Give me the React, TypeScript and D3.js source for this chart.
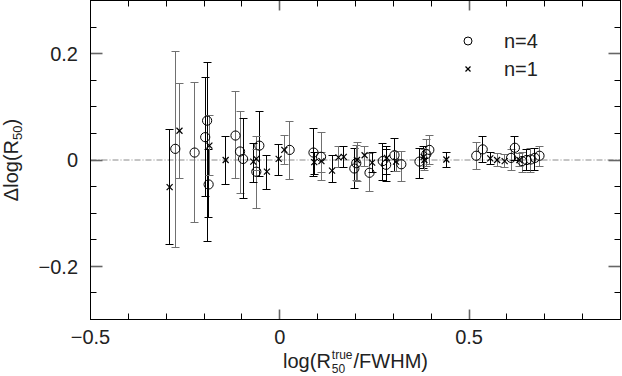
import React, { useEffect, useRef } from "react";
import * as d3 from "d3";

// n=4 points (circles)
const n4X = [-0.276, -0.225, -0.197, -0.192, -0.188, -0.117, -0.105, -0.097, -0.054, -0.062, 0.026, 0.089, 0.109, 0.197, 0.202, 0.237, 0.272, 0.281, 0.303, 0.321, 0.369, 0.387, 0.395, 0.519, 0.536, 0.611, 0.621, 0.640, 0.652, 0.663, 0.674, 0.686];
const n4Y = [0.021, 0.014, 0.043, 0.074, -0.046, 0.046, 0.016, 0.002, 0.027, -0.022, 0.019, 0.014, 0.006, -0.016, -0.006, -0.024, -0.002, -0.009, 0.009, -0.008, -0.003, 0.011, 0.019, 0.008, 0.020, 0.004, 0.023, -0.002, 0.0, 0.001, 0.004, 0.008];
const n4Lo = [-0.164, -0.117, -0.069, -0.154, -0.109, -0.035, -0.063, -0.073, -0.031, -0.091, -0.036, -0.031, -0.038, -0.053, -0.038, -0.060, -0.038, -0.041, -0.022, -0.041, -0.034, -0.013, -0.009, -0.017, -0.004, -0.019, -0.001, -0.023, -0.019, -0.023, -0.019, -0.013];
const n4Hi = [0.204, 0.145, 0.155, 0.183, 0.019, 0.128, 0.092, 0.078, 0.092, 0.044, 0.072, 0.060, 0.052, 0.022, 0.028, 0.012, 0.031, 0.025, 0.041, 0.016, 0.022, 0.038, 0.047, 0.033, 0.045, 0.019, 0.045, 0.015, 0.019, 0.021, 0.022, 0.026];
const n4Set = ["B", "B", "A", "A", "A", "B", "B", "A", "A", "B", "B", "A", "B", "A", "B", "B", "A", "A", "A", "B", "A", "B", "B", "B", "A", "B", "A", "B", "A", "B", "A", "B"];

// n=1 points (crosses)
const n1X = [-0.291, -0.265, -0.186, -0.143, -0.070, -0.062, -0.034, -0.003, 0.012, 0.091, 0.110, 0.138, 0.155, 0.169, 0.204, 0.224, 0.244, 0.283, 0.307, 0.380, 0.382, 0.440, 0.556, 0.574, 0.594, 0.633];
const n1Y = [-0.051, 0.055, 0.027, 0.0, -0.003, 0.002, -0.022, 0.002, 0.019, -0.004, -0.002, -0.020, 0.005, 0.006, 0.0, 0.009, -0.005, 0.004, -0.003, 0.006, 0.0, 0.001, 0.003, 0.0, -0.002, 0.0];
const n1Lo = [-0.158, -0.034, -0.029, -0.047, -0.042, -0.019, -0.056, -0.030, -0.009, -0.028, -0.023, -0.043, -0.015, -0.014, -0.041, -0.013, -0.023, -0.028, -0.022, -0.016, -0.019, -0.014, -0.009, -0.013, -0.015, -0.013];
const n1Hi = [0.058, 0.143, 0.083, 0.045, 0.031, 0.019, 0.009, 0.030, 0.047, 0.015, 0.015, 0.009, 0.025, 0.025, 0.033, 0.026, 0.014, 0.019, 0.016, 0.025, 0.019, 0.015, 0.015, 0.013, 0.011, 0.013];
const n1Set = ["A", "B", "B", "A", "A", "B", "A", "A", "B", "A", "B", "A", "B", "A", "B", "B", "A", "A", "B", "A", "B", "A", "A", "B", "B", "B"];

const xLabels = [-0.5, 0, 0.5];
const yLabels = [-0.2, 0, 0.2];
const legendLabels = ["n=4", "n=1"];

const FONT = "'Liberation Sans', Arial, Helvetica, sans-serif";

const App = () => {
  const svgRef = useRef<SVGSVGElement>(null);

  useEffect(() => {
    const svg = d3.select(svgRef.current);
    svg.selectAll("*").remove();

    const x = d3.scaleLinear().domain([-0.5, 0.9]).range([90.5, 620.5]);
    const y = d3.scaleLinear().domain([-0.3, 0.3]).range([319.5, 0.5]);
    const col = d3.scaleOrdinal<string, string>().domain(["A", "B"]).range(["#000", "#707070"]);
    const fmt = (v: number) => (v === 0 ? "0" : d3.format(".1f")(v));
    const snap = (p: number) => Math.round(p - 0.5) + 0.5;

    // zero line
    svg.append("line")
      .attr("x1", x(-0.5)).attr("x2", x(0.9))
      .attr("y1", y(0)).attr("y2", y(0))
      .attr("stroke", "#8a8a8a")
      .attr("stroke-dasharray", "6,2,1,2");

    // ticks
    const xt = d3.range(-4, 9).map(i => i / 10);
    const yt = d3.range(-5, 6).map(i => i * 0.05);
    const isMajX = (v: number) => Math.abs(v * 2 - Math.round(v * 2)) < 1e-6;
    const isMajY = (v: number) => Math.abs(v / 0.2 - Math.round(v / 0.2)) < 1e-6;
    const ticks = svg.append("g");
    xt.forEach(v => {
      const len = isMajX(v) ? 10 : 6;
      const c = isMajX(v) ? "#666" : "#000";
      const w = isMajX(v) ? 1.6 : 1;
      const px = snap(x(v));
      ticks.append("line").attr("x1", px).attr("x2", px).attr("y1", y(-0.3)).attr("y2", y(-0.3) - len).attr("stroke", c).attr("stroke-width", w);
      ticks.append("line").attr("x1", px).attr("x2", px).attr("y1", y(0.3)).attr("y2", y(0.3) + len).attr("stroke", c).attr("stroke-width", w);
    });
    yt.forEach(v => {
      const len = isMajY(v) ? 12 : 6;
      const c = isMajY(v) ? "#666" : "#000";
      const w = isMajY(v) ? 1.6 : 1;
      const py = snap(y(v));
      ticks.append("line").attr("x1", x(-0.5)).attr("x2", x(-0.5) + len).attr("y1", py).attr("y2", py).attr("stroke", c).attr("stroke-width", w);
      ticks.append("line").attr("x1", x(0.9)).attr("x2", x(0.9) - len).attr("y1", py).attr("y2", py).attr("stroke", c).attr("stroke-width", w);
    });

    // frame
    svg.append("rect")
      .attr("x", x(-0.5)).attr("y", y(0.3))
      .attr("width", x(0.9) - x(-0.5)).attr("height", y(-0.3) - y(0.3))
      .attr("fill", "none").attr("stroke", "#000");

    // tick labels
    svg.append("g").selectAll("text").data(xLabels).join("text")
      .attr("x", d => x(d)).attr("y", 344)
      .attr("text-anchor", "middle")
      .attr("font-family", FONT).attr("font-size", 20).attr("fill", "#222")
      .text(d => fmt(d));
    svg.append("g").selectAll("text").data(yLabels).join("text")
      .attr("x", 78).attr("y", d => y(d)).attr("dy", "0.36em")
      .attr("text-anchor", "end")
      .attr("font-family", FONT).attr("font-size", 20).attr("fill", "#222")
      .text(d => fmt(d));

    // error bars
    const drawBars = (xs: number[], lo: number[], hi: number[], set: string[]) => {
      const g = svg.append("g");
      xs.forEach((xv, i) => {
        const c = col(set[i]);
        const px = snap(x(xv));
        const yl = snap(y(lo[i]));
        const yh = snap(y(hi[i]));
        g.append("line").attr("x1", px).attr("x2", px).attr("y1", yl).attr("y2", yh).attr("stroke", c);
        [yl, yh].forEach(e => {
          g.append("line").attr("x1", px - 4).attr("x2", px + 4).attr("y1", e).attr("y2", e).attr("stroke", c);
        });
      });
    };
    drawBars(n4X, n4Lo, n4Hi, n4Set);
    drawBars(n1X, n1Lo, n1Hi, n1Set);

    // markers
    svg.append("g").selectAll("circle").data(n4X).join("circle")
      .attr("cx", d => x(d)).attr("cy", (d, i) => y(n4Y[i]))
      .attr("r", 4.6).attr("fill", "none").attr("stroke", "#000");
    const cross = (g: any, cx: number, cy: number, s: number) => {
      g.append("line").attr("x1", cx - s).attr("x2", cx + s).attr("y1", cy - s).attr("y2", cy + s).attr("stroke", "#000").attr("stroke-width", 1.2);
      g.append("line").attr("x1", cx - s).attr("x2", cx + s).attr("y1", cy + s).attr("y2", cy - s).attr("stroke", "#000").attr("stroke-width", 1.2);
    };
    const cg = svg.append("g");
    n1X.forEach((d, i) => cross(cg, x(d), y(n1Y[i]), 3));

    // legend
    const lg = svg.append("g");
    lg.append("circle").attr("cx", 468).attr("cy", 41).attr("r", 4).attr("fill", "none").attr("stroke", "#000");
    cross(lg, 468, 69, 2.5);
    legendLabels.forEach((t, i) => {
      lg.append("text").attr("x", 504).attr("y", 41 + i * 28).attr("dy", "0.36em")
        .attr("font-family", FONT).attr("font-size", 20).attr("fill", "#222")
        .text(t);
    });

    // y title
    const yt2 = svg.append("text")
      .attr("transform", "translate(18,160) rotate(-90)")
      .attr("text-anchor", "middle")
      .attr("font-family", FONT).attr("font-size", 20).attr("fill", "#222");
    yt2.append("tspan").text("Δlog(R");
    yt2.append("tspan").attr("font-size", 13).attr("dy", 4).text("50");
    yt2.append("tspan").attr("dy", -4).text(")");

    // x title with stacked sub/superscript
    const xg = svg.append("g").attr("font-family", FONT).attr("fill", "#222");
    const t1 = xg.append("text").attr("y", 368).attr("font-size", 20).text("log(R");
    const sup = xg.append("text").attr("y", 359).attr("font-size", 12).text("true");
    const sub = xg.append("text").attr("y", 373).attr("font-size", 12).text("50");
    const t2 = xg.append("text").attr("y", 368).attr("font-size", 20).text("/FWHM)");
    const w1 = (t1.node() as SVGTextElement).getComputedTextLength();
    const ws = Math.max((sup.node() as SVGTextElement).getComputedTextLength(), (sub.node() as SVGTextElement).getComputedTextLength());
    const w2 = (t2.node() as SVGTextElement).getComputedTextLength();
    const total = w1 + 1 + ws + 1 + w2;
    const x0 = (x(-0.5) + x(0.9)) / 2 - total / 2;
    t1.attr("x", x0);
    sup.attr("x", x0 + w1 + 1);
    sub.attr("x", x0 + w1 + 1);
    t2.attr("x", x0 + w1 + 2 + ws);
  }, []);

  return <svg ref={svgRef} width={622} height={376} style={{ position: "absolute", left: 0, top: 0, background: "#fff" }} />;
};

export default App;
